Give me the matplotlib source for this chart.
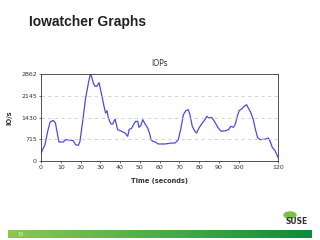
import matplotlib
matplotlib.use("Agg")
import matplotlib.pyplot as plt
import numpy as np
from matplotlib.patches import Ellipse
from matplotlib.colors import LinearSegmentedColormap

time_s = [0, 2, 3.4, 4.6, 6.2, 7.3, 8.4, 9.1, 11.3, 12.4, 14.6, 16.3, 17.5, 18.9, 19.7,
          21.1, 22.6, 24, 25, 25.5, 26.5, 27.3, 28.3, 29.4, 30.7, 31.9, 32.7, 33.4, 34.1,
          35.4, 36.3, 37.5, 38.8, 40.8, 42.5, 43.9, 44.6, 46, 46.8, 47.9, 49, 49.6, 50.6,
          51.5, 52.7, 54, 54.9, 55.7, 56.6, 57.8, 59.4, 62.8, 66.2, 67.9, 69.5, 70.7, 72.1,
          73.3, 74.6, 75.4, 76.6, 77.9, 78.8, 80, 81.7, 83, 84, 85, 86.4, 87.8, 89.5, 91.2,
          93.5, 94.9, 96.1, 97.4, 98.3, 99.4, 100.3, 101.6, 102.9, 104.1, 105, 106.3, 107.5,
          108.4, 109.6, 111, 113.5, 115.1, 116, 117.1, 118.5, 120]
iops = [263, 537, 977, 1283, 1338, 1250, 866, 625, 625, 700, 690, 670, 537, 515, 640,
        1305, 2073, 2566, 2862, 2800, 2566, 2457, 2457, 2577, 2180, 1800, 1580, 1655, 1415,
        1217, 1217, 1380, 1030, 977, 921, 812, 1030, 1086, 1195, 1305, 1305, 1108, 1173,
        1360, 1217, 1086, 921, 700, 648, 625, 560, 560, 592, 592, 700, 1030, 1523,
        1655, 1688, 1523, 1140, 977, 921, 1086, 1250, 1360, 1470, 1415, 1437, 1305, 1108, 977,
        997, 1030, 1140, 1108, 1195, 1470, 1655, 1710, 1800, 1852, 1740, 1580, 1360,
        1086, 780, 700, 720, 757, 648, 450, 340, 120]
yticks = [0, 715, 1430, 2145, 2862]
xticks = [0, 10, 20, 30, 40, 50, 60, 70, 80, 90, 100, 120]

fig = plt.figure(figsize=(3.2, 2.4), dpi=100)
fig.patch.set_facecolor("white")

# slide title
fig.text(29/320, 1-26/240, "Iowatcher Graphs", fontsize=10, fontweight="bold",
         family="Liberation Sans", color="#222222", ha="left", va="baseline")

ax = fig.add_axes([41/320, 1-161/240, 237/320, 87/240])
ax.plot(time_s, iops, color="#4b4be0", lw=0.9)
ax.set_xlim(0, 120)
ax.set_ylim(0, 2862)
ax.set_xticks(xticks)
ax.set_yticks(yticks)
ax.tick_params(labelsize=4.5, length=1.5, width=0.5, colors="#333333", pad=1.5)
for g in yticks[1:-1]:
    ax.axhline(g, color="#cccccc", lw=0.6, ls=(0, (4, 4)))
for s in ax.spines.values():
    s.set_linewidth(0.6)
    s.set_color("#333333")
ax.set_title("IOPs", fontsize=5.5, color="#333333", pad=6)
ax.set_xlabel("Time (seconds)", fontsize=4.8, fontweight="bold", color="#333333", labelpad=6)
ax.set_ylabel("IO/s", fontsize=4.8, fontweight="bold", color="#333333", labelpad=6)

# bottom green bar with gradient
bar_ax = fig.add_axes([8/320, 1-238/240, 304/320, 8/240])
grad = np.linspace(0, 1, 256).reshape(1, -1)
cmap = LinearSegmentedColormap.from_list("g", ["#8ec652", "#4aae46", "#0c8c3c"])
bar_ax.imshow(grad, aspect="auto", cmap=cmap, extent=[0, 1, 0, 1])
bar_ax.set_axis_off()
bar_ax.text(0.03, 0.5, "19", fontsize=3.5, color="#d8f0c0", va="center", ha="left")

# SUSE logo
logo_ax = fig.add_axes([280/320, 1-228/240, 32/320, 18/240])
logo_ax.set_xlim(0, 32)
logo_ax.set_ylim(0, 18)
logo_ax.set_axis_off()
logo_ax.add_patch(Ellipse((10, 13), 12, 6, color="#7ac143"))
logo_ax.text(17, 6, "SUSE", fontsize=5.5, fontweight="bold", color="#333333",
             ha="center", va="center", family="DejaVu Sans")

fig.savefig("out.png", dpi=100)
